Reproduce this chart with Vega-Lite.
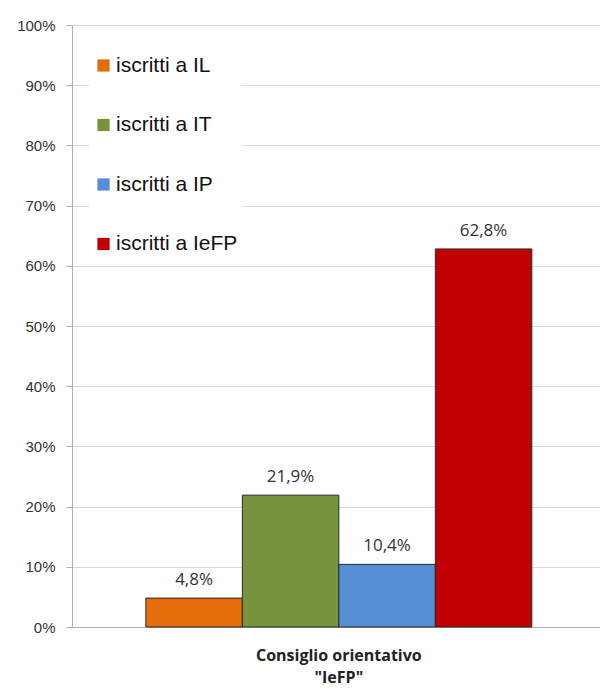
{
  "$schema": "https://vega.github.io/schema/vega-lite/v6.json",
  "width": 528,
  "height": 602,
  "autosize": "none",
  "padding": {"left": 72, "top": 25, "right": 0, "bottom": 68},
  "background": "white",
  "config": {
    "locale": {"number": {"decimal": ",", "thousands": ".", "grouping": [3], "currency": ["", " €"]}},
    "view": {"stroke": null}
  },
  "data": {
    "values": [
      {"cat": "Consiglio orientativo", "serie": "iscritti a IL", "v": 0.048},
      {"cat": "Consiglio orientativo", "serie": "iscritti a IT", "v": 0.219},
      {"cat": "Consiglio orientativo", "serie": "iscritti a IP", "v": 0.104},
      {"cat": "Consiglio orientativo", "serie": "iscritti a IeFP", "v": 0.628}
    ]
  },
  "encoding": {
    "x": {
      "field": "cat", "type": "nominal",
      "scale": {"paddingInner": 0, "paddingOuter": 0.184, "align": 0.52},
      "axis": {
        "title": null, "labelAngle": 0,
        "labelExpr": "['Consiglio orientativo', '\"IeFP\"']",
        "labelFont": "Open Sans", "labelFontWeight": "bold", "labelFontSize": 16,
        "labelColor": "#222", "labelPadding": 20, "labelLineHeight": 22,
        "ticks": false, "domainColor": "#b0b0b0"
      }
    },
    "xOffset": {
      "field": "serie", "type": "nominal",
      "sort": ["iscritti a IL", "iscritti a IT", "iscritti a IP", "iscritti a IeFP"],
      "scale": {"paddingInner": 0, "paddingOuter": 0}
    },
    "y": {
      "field": "v", "type": "quantitative",
      "scale": {"domain": [0, 1]},
      "axis": {
        "title": null, "format": ".0%",
        "values": [0, 0.1, 0.2, 0.3, 0.4, 0.5, 0.6, 0.7, 0.8, 0.9, 1],
        "gridColor": "#d9d9d9", "domainColor": "#b0b0b0", "tickColor": "#b0b0b0",
        "tickSize": 6, "labelPadding": 11, "labelFontSize": 15,
        "labelFont": "Liberation Sans", "labelColor": "#333"
      }
    }
  },
  "layer": [
    {
      "mark": {"type": "bar", "stroke": "#2a2a2a", "strokeWidth": 1},
      "encoding": {
        "color": {
          "field": "serie", "type": "nominal",
          "scale": {
            "domain": ["iscritti a IL", "iscritti a IT", "iscritti a IP", "iscritti a IeFP"],
            "range": ["#E46C0A", "#77933C", "#558ED5", "#C00000"]
          },
          "legend": {
            "title": null, "orient": "none", "legendX": 17, "legendY": 26,
            "fillColor": "white", "padding": 4,
            "symbolType": "square", "symbolSize": 150, "symbolStrokeWidth": 0,
            "labelFont": "Liberation Sans", "labelFontSize": 21, "labelColor": "#111",
            "labelOffset": 2, "rowPadding": 37.5
          }
        }
      }
    },
    {
      "mark": {"type": "text", "baseline": "bottom", "dy": -9, "fontSize": 17, "font": "Open Sans", "color": "#333"},
      "encoding": {"text": {"field": "v", "type": "quantitative", "format": ".1%"}}
    }
  ]
}
